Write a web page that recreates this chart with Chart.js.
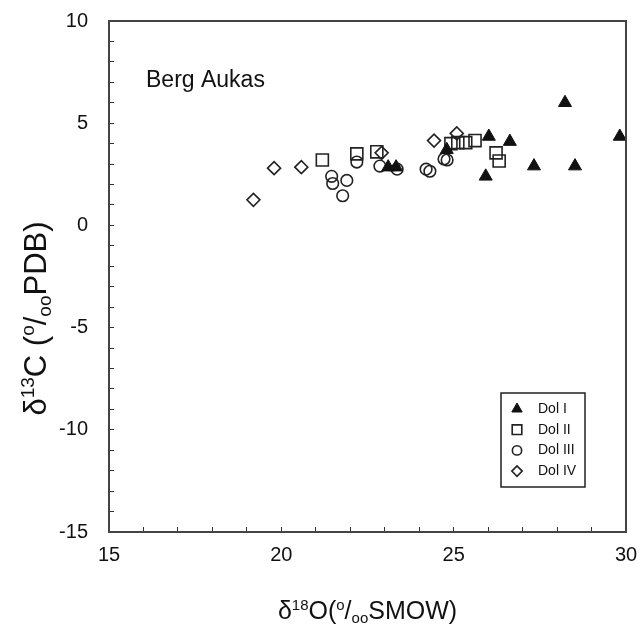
<!DOCTYPE html>
<html>
<head>
<meta charset="utf-8">
<title>Berg Aukas</title>
<script src="https://cdn.jsdelivr.net/npm/chart.js"></script>
<style>
  html, body { margin: 0; padding: 0; background: #fff; }
  canvas { display: block; }
</style>
</head>
<body>
<canvas id="isoChart" width="641" height="624"></canvas>
<script>
// Données : δ18O (x) et δ13C (y)
const dolI_O = [23.1, 23.33, 24.8, 25.93, 26.02, 26.63, 27.33, 28.23, 28.52, 29.82];
const dolI_C = [2.85, 2.85, 3.7, 2.4, 4.35, 4.1, 2.9, 6.0, 2.9, 4.35];

const dolII_O = [21.19, 22.19, 22.77, 24.92, 25.12, 25.35, 25.62, 26.23, 26.32];
const dolII_C = [3.2, 3.5, 3.6, 4.0, 4.05, 4.05, 4.15, 3.55, 3.15];

const dolIII_O = [21.46, 21.49, 21.9, 21.78, 22.19, 22.86, 23.36, 24.2, 24.31, 24.72, 24.81];
const dolIII_C = [2.4, 2.05, 2.2, 1.45, 3.1, 2.9, 2.75, 2.75, 2.65, 3.25, 3.2];

const dolIV_O = [19.19, 19.79, 20.58, 22.91, 24.43, 25.09];
const dolIV_C = [1.25, 2.8, 2.85, 3.55, 4.15, 4.5];

const seriesNames = ["Dol I", "Dol II", "Dol III", "Dol IV"];
const siteName = "Berg Aukas";
const xRange = [15, 30];
const yRange = [-15, 10];

const FONT = "'Liberation Sans', Arial, Helvetica, sans-serif";
const INK = '#111';

// Titres avec exposants / indices : [texte, mode]
const xTitleRuns = [["δ", "n"], ["18", "sup"], ["O(", "n"], ["o", "sup"], ["/", "n"], ["oo", "sub"], ["SMOW)", "n"]];
const yTitleRuns = [["δ", "n"], ["13", "sup"], ["C (", "n"], ["o", "sup"], ["/", "n"], ["oo", "sub"], ["PDB)", "n"]];

function toPoints(xs, ys) {
    return xs.map((x, i) => ({ x: x, y: ys[i] }));
}

// Écrit une suite de morceaux centrée sur (0, 0)
function drawRuns(ctx, runs, size) {
    const small = Math.round(size * 0.6);
    let total = 0;
    runs.forEach((r) => {
        ctx.font = (r[1] === "n" ? size : small) + "px " + FONT;
        total += ctx.measureText(r[0]).width;
    });
    let x = -total / 2;
    runs.forEach((r) => {
        const s = r[1] === "n" ? size : small;
        ctx.font = s + "px " + FONT;
        let dy = 0;
        if (r[1] === "sup") dy = -size * 0.38;
        if (r[1] === "sub") dy = size * 0.15;
        ctx.fillText(r[0], x, dy);
        x += ctx.measureText(r[0]).width;
    });
}

const datasets = [
    {
        label: seriesNames[0],
        data: toPoints(dolI_O, dolI_C),
        pointStyle: 'triangle',
        pointRadius: 7.5,
        backgroundColor: INK,
        borderColor: INK,
        pointBorderWidth: 1,
    },
    {
        label: seriesNames[1],
        data: toPoints(dolII_O, dolII_C),
        pointStyle: 'rect',
        pointRadius: 8.5,
        backgroundColor: 'rgba(0,0,0,0)',
        borderColor: '#222',
        pointBorderWidth: 1.6,
    },
    {
        label: seriesNames[2],
        data: toPoints(dolIII_O, dolIII_C),
        pointStyle: 'circle',
        pointRadius: 5.8,
        backgroundColor: 'rgba(0,0,0,0)',
        borderColor: '#222',
        pointBorderWidth: 1.6,
    },
    {
        label: seriesNames[3],
        data: toPoints(dolIV_O, dolIV_C),
        pointStyle: 'rectRot',
        pointRadius: 6.5,
        backgroundColor: 'rgba(0,0,0,0)',
        borderColor: '#222',
        pointBorderWidth: 1.6,
    },
];

// Cadre, textes et légende dessinés après le graphique
const decorPlugin = {
    id: 'decor',
    afterDraw(chart) {
        const ctx = chart.ctx;
        const a = chart.chartArea;
        ctx.save();

        // Cadre haut et droit
        ctx.strokeStyle = '#444';
        ctx.lineWidth = 2;
        ctx.beginPath();
        ctx.moveTo(a.left, a.top);
        ctx.lineTo(a.right, a.top);
        ctx.lineTo(a.right, a.bottom);
        ctx.stroke();

        // Nom du site
        ctx.fillStyle = INK;
        ctx.textAlign = 'left';
        ctx.textBaseline = 'alphabetic';
        ctx.font = "23px " + FONT;
        ctx.fillText(siteName, a.left + 37, a.top + 66);

        // Titre de l'axe x
        ctx.save();
        ctx.translate((a.left + a.right) / 2, 619);
        drawRuns(ctx, xTitleRuns, 25);
        ctx.restore();

        // Titre de l'axe y
        ctx.save();
        ctx.translate(46, (a.top + a.bottom) / 2 + 42);
        ctx.rotate(-Math.PI / 2);
        drawRuns(ctx, yTitleRuns, 31);
        ctx.restore();

        // Légende
        const bx = a.right - 125, by = a.bottom - 139;
        ctx.strokeStyle = '#222';
        ctx.lineWidth = 1.5;
        ctx.strokeRect(bx, by, 84, 94);
        ctx.font = "14px " + FONT;
        ctx.textBaseline = 'middle';
        chart.data.datasets.forEach((ds, i) => {
            const cy = by + 16 + i * 20.7;
            ctx.fillStyle = ds.backgroundColor;
            ctx.strokeStyle = ds.borderColor;
            ctx.lineWidth = ds.pointBorderWidth;
            Chart.helpers.drawPoint(ctx, {
                pointStyle: ds.pointStyle,
                radius: ds.pointRadius * 0.8,
                rotation: 0,
                borderWidth: ds.pointBorderWidth,
            }, bx + 16, cy);
            ctx.fillStyle = INK;
            ctx.fillText(ds.label, bx + 37, cy);
        });

        ctx.restore();
    }
};

// Pas de marge automatique pour les étiquettes aux extrémités
function noEdgePadding(scale) {
    scale.paddingTop = 0;
    scale.paddingBottom = 0;
    scale.paddingLeft = 0;
    scale.paddingRight = 0;
}

function axisOptions(range, padding) {
    return {
        type: 'linear',
        min: range[0],
        max: range[1],
        ticks: {
            stepSize: 1,
            autoSkip: false,
            maxRotation: 0,
            color: INK,
            padding: padding,
            font: { size: 20, family: FONT },
            callback: (v) => (v % 5 === 0 ? String(v) : ''),
        },
        grid: {
            drawOnChartArea: false,
            drawTicks: true,
            tickLength: -5,
            color: '#333',
            lineWidth: 1,
        },
        border: { display: true, color: '#444', width: 2 },
    };
}

const xAxis = axisOptions(xRange, 16);
xAxis.afterFit = (scale) => { scale.height = 92; noEdgePadding(scale); };
const yAxis = axisOptions(yRange, 26);
yAxis.afterFit = (scale) => { scale.width = 109; noEdgePadding(scale); };

const ctx = document.getElementById('isoChart').getContext('2d');
const chart = new Chart(ctx, {
    type: 'scatter',
    data: { datasets: datasets },
    options: {
        responsive: false,
        animation: false,
        devicePixelRatio: 1,
        layout: { padding: { top: 21, right: 15, left: 0, bottom: 0 } },
        plugins: {
            legend: { display: false },
            tooltip: { enabled: false },
        },
        scales: { x: xAxis, y: yAxis },
    },
    plugins: [decorPlugin],
});
</script>
</body>
</html>
